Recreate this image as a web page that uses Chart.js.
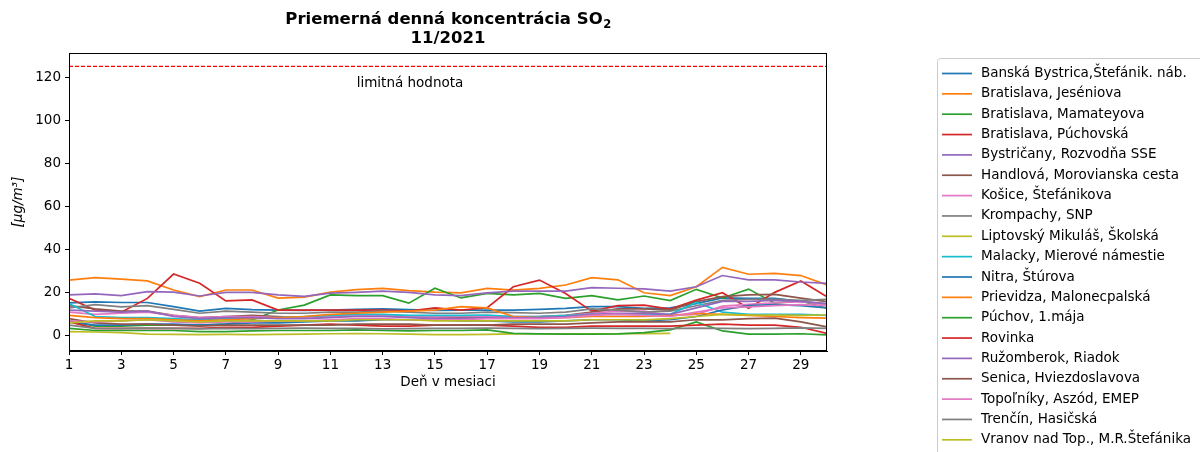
<!DOCTYPE html>
<html lang="sk">
<head>
<meta charset="utf-8">
<title>SO2 11/2021</title>
<script src="https://cdn.jsdelivr.net/npm/chart.js@4/dist/chart.umd.min.js"></script>
<style>
    html, body { margin: 0; padding: 0; background: #fff; }
    canvas { display: block; }
</style>
</head>
<body>
<canvas id="so2Chart" width="1200" height="452"></canvas>
<script>
// days of the month and tick labels
const days = [1, 2, 3, 4, 5, 6, 7, 8, 9, 10, 11, 12, 13, 14, 15, 16, 17, 18, 19, 20, 21, 22, 23, 24, 25, 26, 27, 28, 29, 30];
const xTicks = [1, 3, 5, 7, 9, 11, 13, 15, 17, 19, 21, 23, 25, 27, 29];
const yTicks = [0, 20, 40, 60, 80, 100, 120];
const limitValue = 125;

const stationNames = [
    'Banská Bystrica,Štefánik. náb.',
    'Bratislava, Jeséniova',
    'Bratislava, Mamateyova',
    'Bratislava, Púchovská',
    'Bystričany, Rozvodňa SSE',
    'Handlová, Morovianska cesta',
    'Košice, Štefánikova',
    'Krompachy, SNP',
    'Liptovský Mikuláš, Školská',
    'Malacky, Mierové námestie',
    'Nitra, Štúrova',
    'Prievidza, Malonecpalská',
    'Púchov, 1.mája',
    'Rovinka',
    'Ružomberok, Riadok',
    'Senica, Hviezdoslavova',
    'Topoľníky, Aszód, EMEP',
    'Trenčín, Hasičská',
    'Vranov nad Top., M.R.Štefánika'
];

// daily means [µg/m3], one array per station
const bbStefanik = [15.3, 15.8, 15.5, 15.5, 13.6, 11.5, 12.8, 12.2, 12, 11.8, 12, 12.3, 12.5, 12.2, 11.8, 12, 12, 12, 12.3, 12.8, 13.6, 13.6, 12.8, 13, 15, 17.6, 17.4, 17.4, 16, 14.8];
const baJeseniova = [25.9, 27, 26.3, 25.5, 21.3, 18.2, 21.3, 21.3, 17.5, 18, 20.3, 21.5, 22, 21, 20.3, 20, 22, 21.2, 22, 23.6, 27, 26, 20, 18.7, 22.8, 31.8, 28.6, 29, 28, 23.6];
const baMamateyova = [7, 4.5, 4.5, 5, 5, 5, 5.5, 7.4, 12, 14.3, 19, 18.7, 18.7, 15.2, 22.1, 17.6, 19.7, 19, 19.7, 17.4, 18.7, 16.7, 18.5, 16.4, 21.6, 17.6, 21.7, 15.2, 16.2, 12.8];
const baPuchovska = [17.4, 12, 11, 17.4, 28.7, 24.4, 16.2, 16.7, 12, 12, 12, 12, 12, 11.5, 13, 12, 13.1, 22.8, 25.9, 19.7, 11.5, 14, 14.3, 12.4, 16.6, 20, 12.8, 20.2, 25.5, 18.2];
const bystricany = [19, 19.5, 18.7, 20.5, 20.3, 18.5, 20.2, 20.2, 19, 18.3, 19.8, 20.2, 20.8, 20.2, 19, 18.7, 20, 20.8, 20.8, 20.8, 22.4, 22.1, 21.8, 20.8, 22.8, 28, 26, 26, 25, 24.4];
const handlova = [14, 12.5, 11.5, 11.5, 9.5, 8.5, 9, 9.5, 9, 8.5, 9, 9.5, 9.5, 9, 8.8, 8.5, 8.5, 8.8, 9, 9.5, 11, 12.5, 12.5, 12, 15.9, 18.2, 19, 19.3, 17.5, 15.9];
const kosice = [11, 10, 10.5, 11, 9.5, 8.5, 9, 9, 8.5, 8.5, 9, 9.5, 9.5, 9, 8.8, 9, 9.2, 9, 9, 9.4, 10.5, 11.5, 11.5, 9.4, 10, 13.8, 14.6, 15.3, 15.9, 14.4];
const krompachy = [13, 14.5, 13.5, 14, 12.3, 10.5, 11.5, 11, 10.5, 10.5, 11, 11, 11.5, 11, 10.5, 10.5, 11, 10.8, 10.5, 11, 12.5, 12, 11, 11.5, 14, 16.5, 17, 17, 16.5, 17];
const liptovskyMikulas = [2, 1.8, 1.5, 0.8, 0.7, 0.6, 0.7, 0.6, 0.7, 0.8, 1, 1.1, 1, 0.8, 0.6, 0.6, 0.7, 0.9, 1, 1, 0.9, 1, 1.1, 1.2, null, null, null, null, null, null];
const malacky = [15, 9, 8.5, 8.5, 8, 7.5, 8, 8, 8.5, 9, 9.5, 10, 10, 9.5, 9.5, 9.5, 9.7, 9, 9, 9.4, 10, 10, 10, 10, 15.5, 11, 10, 10, 10, 9.5];
const nitra = [6.5, 5, 5, 5.5, 5.5, 5, 5.5, 6, 6, 6.5, 7, 7, 7.5, 7.5, 7.5, 7, 7, 6.5, 6.5, 7, 7.5, 7.5, 7, 7.5, 9, 12, 14, 14.5, 14, 13];
const prievidza = [9.5, 8.5, 8, 8, 7.5, 7, 7.5, 8, 8.5, 9, 10, 10.5, 11, 11.5, 12, 13.6, 13, 9, 8.5, 8.5, 9, 9, 9, 9.5, 10.4, 10, 9.5, 9, 8.5, 8.2];
const puchov = [3.5, 2.5, 2.5, 2.5, 2.5, 2, 2, 2.3, 2.5, 2.5, 2.5, 2.8, 2.5, 2.3, 2.5, 2.5, 2.8, 1.2, 0.9, 0.8, 0.8, 0.9, 1.5, 2.8, 6.5, 2.3, 0.8, 0.8, 1, 0.5];
const rovinka = [6.5, 3.5, 3.5, 3.5, 3.5, 3.5, 4, 4, 4.5, 5, 5.5, 5, 4.5, 4.5, 5, 5, 5, 4.5, 4, 4, 4.5, 4.5, 4.5, 4.5, 5, 5.5, 5, 5, 4, 1.2];
const ruzomberok = [12, 11.5, 11, 11.5, 9, 8, 8.5, 8.5, 8, 8, 8.5, 9, 9, 8.5, 8, 8, 8.5, 8.5, 8.5, 9, 10, 10.5, 10.5, 10, 13, 16, 16, 16.5, 16, 15];
const senica = [8, 6, 5.5, 5.5, 5, 4.5, 5, 5, 5, 5, 5, 5.5, 5.5, 5.5, 5, 5, 5, 5.5, 5.5, 5.5, 6, 6.5, 6.5, 6.5, 7.5, 7.4, 8, 8.2, 6.5, 4.2];
const topolniky = [7, 6.5, 7, 7.5, 6.5, 6, 6.5, 6.5, 7, 7, 7.5, 8, 8, 7.5, 7.5, 7.5, 8, 8, 8, 8.5, 9.5, 10, 9.5, 9, 11, 13, 13.5, 14, 14.5, 14];
const trencin = [5, 3.5, 3.4, 3.6, 3.5, 3.3, 3.5, 3.4, 3.5, 3.6, 3.5, 3.5, 3.3, 3.4, 3.5, 3.5, 3.6, 3.5, 3.4, 3.5, 3.6, 3.5, 3.5, 3.4, 3.6, 3.5, 3.4, 3.5, 3.7, 3.5];
const vranov = [6, 7, 7, 7.5, 7, 6.5, 7, 7, 7, 7, 7, 7.5, 7.5, 7.5, 7, 7, 7, 7, 7, 7, 7.5, 7.5, 7.4, 8, 9, 10, 9.7, 9.7, 9.5, 9.7];

const series = [bbStefanik, baJeseniova, baMamateyova, baPuchovska, bystricany, handlova, kosice, krompachy,
    liptovskyMikulas, malacky, nitra, prievidza, puchov, rovinka, ruzomberok, senica, topolniky, trencin, vranov];

document.addEventListener('DOMContentLoaded', function () {
    // matplotlib tab10 cycle
    const tab10 = ['#1f77b4', '#ff7f0e', '#2ca02c', '#d62728', '#9467bd', '#8c564b', '#e377c2', '#7f7f7f', '#bcbd22', '#17becf'];
    const FONT = 'DejaVu Sans';
    const SIZE = 13.5;

    const datasets = series.map((values, i) => ({
        label: stationNames[i],
        data: values.map((v, j) => ({ x: days[j], y: v })),
        borderColor: tab10[i % 10],
        borderWidth: 1.7,
        pointRadius: 0,
        tension: 0,
        spanGaps: false,
        order: series.length - i,
    }));

    datasets.push({
        label: 'limitná hodnota',
        data: [{ x: days[0], y: limitValue }, { x: days[days.length - 1], y: limitValue }],
        borderColor: '#ff0000',
        borderWidth: 1.2,
        borderDash: [4, 2],
        pointRadius: 0,
        order: 0,
    });

    // title, frame, annotation and legend drawn on the canvas
    const decorations = {
        id: 'decorations',
        afterDraw(chart) {
            const { ctx, chartArea } = chart;
            const yScale = chart.scales.y;
            ctx.save();

            // top/right spines
            ctx.strokeStyle = '#000';
            ctx.lineWidth = 1;
            ctx.strokeRect(chartArea.left + 0.5, chartArea.top + 0.5, chartArea.right - chartArea.left - 1, chartArea.bottom - chartArea.top - 1);

            // title
            const cx = (chartArea.left + chartArea.right) / 2;
            ctx.fillStyle = '#000';
            ctx.textBaseline = 'middle';
            ctx.font = 'bold 16.5px "' + FONT + '"';
            const main = 'Priemerná denná koncentrácia SO';
            const wMain = ctx.measureText(main).width;
            ctx.font = 'bold 11.5px "' + FONT + '"';
            const wSub = ctx.measureText('2').width;
            const x0 = cx - (wMain + wSub) / 2;
            ctx.textAlign = 'left';
            ctx.font = 'bold 16.5px "' + FONT + '"';
            ctx.fillText(main, x0, 20);
            ctx.font = 'bold 11.5px "' + FONT + '"';
            ctx.fillText('2', x0 + wMain + 0.5, 25);
            ctx.textAlign = 'center';
            ctx.font = 'bold 16.5px "' + FONT + '"';
            ctx.fillText('11/2021', cx, 39);

            // limit label
            ctx.font = SIZE + 'px "' + FONT + '"';
            ctx.fillText('limitná hodnota', 410, yScale.getPixelForValue(limitValue) + 17);

            // legend
            const lx = 937.5, ly = 58.5;
            ctx.fillStyle = 'rgba(255,255,255,0.8)';
            ctx.strokeStyle = '#cccccc';
            ctx.lineWidth = 1;
            ctx.beginPath();
            ctx.roundRect(lx, ly, 300, 420, 3);
            ctx.fill();
            ctx.stroke();
            ctx.textAlign = 'left';
            ctx.font = SIZE + 'px "' + FONT + '"';
            stationNames.forEach((name, i) => {
                const y = 73.5 + i * 20.35;
                ctx.strokeStyle = tab10[i % 10];
                ctx.lineWidth = 1.7;
                ctx.beginPath();
                ctx.moveTo(942, y);
                ctx.lineTo(972, y);
                ctx.stroke();
                ctx.fillStyle = '#000';
                ctx.fillText(name, 981, y);
            });
            ctx.restore();
        },
    };

    const ctx = document.getElementById('so2Chart').getContext('2d');
    new Chart(ctx, {
        type: 'line',
        data: { datasets },
        options: {
            responsive: false,
            animation: false,
            devicePixelRatio: 1,
            layout: { padding: { left: 0, right: 373, top: 53, bottom: 61 } },
            plugins: { legend: { display: false }, tooltip: { enabled: false }, title: { display: false } },
            scales: {
                x: {
                    type: 'linear',
                    min: 1,
                    max: 30,
                    afterBuildTicks: (scale) => { scale.ticks = xTicks.map((v) => ({ value: v })); },
                    afterFit: (scale) => { scale.height = 40; },
                    grid: { drawOnChartArea: false, drawTicks: true, tickLength: 4, color: '#000' },
                    border: { display: true, color: '#000', width: 1 },
                    ticks: { color: '#000', font: { family: FONT, size: SIZE }, padding: 2, maxRotation: 0, autoSkip: false },
                    title: { display: true, text: 'Deň v mesiaci', color: '#000', font: { family: FONT, size: SIZE }, padding: { top: 0, bottom: 0 } },
                },
                y: {
                    type: 'linear',
                    min: -7,
                    max: 131.2,
                    afterBuildTicks: (scale) => { scale.ticks = yTicks.map((v) => ({ value: v })); },
                    afterFit: (scale) => { scale.width = 69; },
                    grid: { drawOnChartArea: false, drawTicks: true, tickLength: 4, color: '#000' },
                    border: { display: true, color: '#000', width: 1 },
                    ticks: { color: '#000', font: { family: FONT, size: SIZE }, padding: 4 },
                    title: { display: true, text: '[μg/m³]', color: '#000', font: { family: FONT, size: SIZE, style: 'italic' }, padding: { top: 10, bottom: 0 } },
                },
            },
        },
        plugins: [decorations],
    });
});
</script>
</body>
</html>
